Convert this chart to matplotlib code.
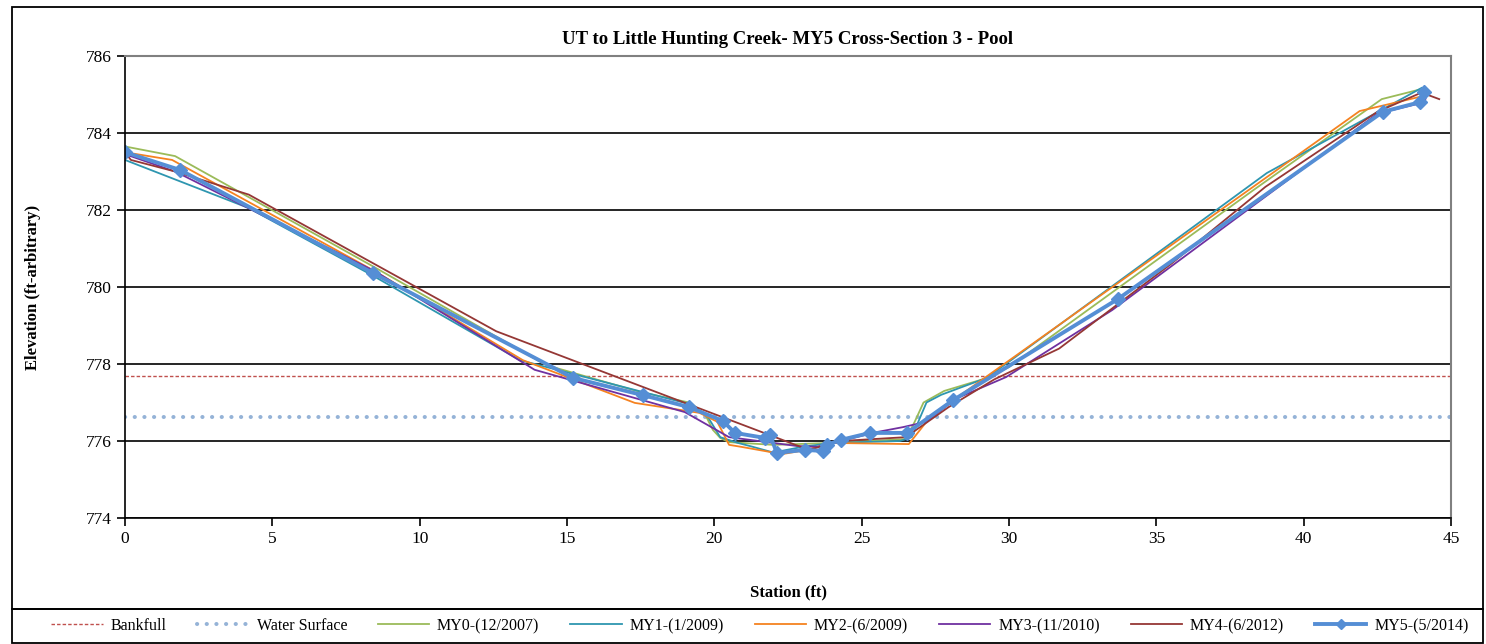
import matplotlib
matplotlib.use("Agg")
import matplotlib.pyplot as plt
from matplotlib.patches import Rectangle

plt.rcParams['font.family'] = ['Liberation Serif', 'DejaVu Serif']

# Cross-section survey data (station ft, elevation ft)
bankfull_elev = 777.7
water_surface_elev = 776.62
ref_station = [0, 45]

my0_x = [0, 1.7, 8.5, 14.3, 17.5, 19.2, 19.7, 19.95, 20.2, 20.5, 22.0, 24.0, 26.5, 26.8, 27.1, 27.8, 29.1, 30.0, 38.3, 42.65, 44.15]
my0_y = [783.65, 783.4, 780.5, 777.97, 777.27, 776.99, 776.67, 776.29, 776.08, 775.97, 775.9, 775.95, 776.05, 776.5, 777.0, 777.3, 777.6, 777.92, 782.52, 784.88, 785.17]

my1_x = [0, 4.2, 8.4, 13.4, 19.2, 19.8, 20.2, 20.8, 21.3, 22.0, 23.0, 24.0, 26.3, 26.7, 27.2, 27.7, 28.4, 29.25, 38.75, 44.0]
my1_y = [783.3, 782.05, 780.3, 778.1, 776.95, 776.6, 776.1, 775.95, 775.85, 775.7, 775.85, 775.95, 776.0, 776.1, 777.0, 777.2, 777.4, 777.64, 782.96, 785.17]

my2_x = [0, 1.6, 8.5, 13.5, 17.3, 19.5, 20.1, 20.5, 20.9, 22.3, 23.0, 24.0, 26.6, 27.2, 28.0, 41.9, 44.0]
my2_y = [783.5, 783.3, 780.4, 778.1, 776.99, 776.73, 776.5, 775.9, 775.85, 775.66, 775.75, 775.95, 775.92, 776.5, 777.0, 784.57, 784.95]

my3_x = [0, 1.7, 8.5, 13.9, 19.0, 20.5, 22.8, 23.5, 25.5, 26.4, 27.2, 28.2, 29.9, 33.5, 42.5, 44.1, 44.2]
my3_y = [783.45, 783.0, 780.4, 777.85, 776.75, 776.1, 775.87, 775.85, 776.23, 776.36, 776.5, 777.1, 777.66, 779.4, 784.5, 784.8, 785.05]

my4_x = [0, 0.2, 1.7, 4.2, 12.6, 23.2, 23.6, 24.3, 26.5, 27.95, 29.5, 31.7, 35.5, 38.7, 42.5, 44.0, 44.6]
my4_y = [783.5, 783.3, 783.0, 782.4, 778.85, 775.77, 775.85, 776.0, 776.1, 776.88, 777.6, 778.4, 780.6, 782.6, 784.55, 785.05, 784.88]

my5_x = [0, 1.87, 8.42, 15.2, 17.58, 19.14, 20.29, 20.7, 21.72, 21.89, 22.12, 23.07, 23.69, 23.82, 24.3, 25.28, 26.54, 28.1, 33.7, 42.69, 43.94, 44.1]
my5_y = [783.5, 783.04, 780.36, 777.64, 777.19, 776.88, 776.52, 776.21, 776.08, 776.16, 775.69, 775.77, 775.74, 775.9, 776.03, 776.21, 776.21, 777.06, 779.69, 784.55, 784.8, 785.07]

W, H = 1486, 644
fig = plt.figure(figsize=(W / 100, H / 100), dpi=100)

# outer chart frame and legend frame
fig.patches.append(Rectangle((12 / W, 1 - 609 / H), 1471 / W, 602 / H, transform=fig.transFigure,
                             fill=False, edgecolor='black', linewidth=1.3))
fig.patches.append(Rectangle((12 / W, 1 - 643 / H), 1471 / W, 34 / H, transform=fig.transFigure,
                             fill=False, edgecolor='black', linewidth=1.3))

ax = fig.add_axes([125 / W, 1 - 518 / H, 1326 / W, 462 / H])

ax.plot(ref_station, [bankfull_elev] * 2, color='#C0504D', linestyle=(0, (2.5, 1.5)), linewidth=1.0, label='Bankfull')
ax.plot(ref_station, [water_surface_elev] * 2, color='#95B3D7', linestyle=(0, (0.05, 2.35)), linewidth=2.9,
        dash_capstyle='round', label='Water Surface')
ax.plot(my0_x, my0_y, color='#9BBB59', linewidth=1.3, label='MY0-(12/2007)')
ax.plot(my1_x, my1_y, color='#2E96B0', linewidth=1.3, label='MY1-(1/2009)')
ax.plot(my2_x, my2_y, color='#F58220', linewidth=1.3, label='MY2-(6/2009)')
ax.plot(my3_x, my3_y, color='#7030A0', linewidth=1.3, label='MY3-(11/2010)')
ax.plot(my4_x, my4_y, color='#953735', linewidth=1.3, label='MY4-(6/2012)')
ax.plot(my5_x, my5_y, color='#558ED5', linewidth=2.8, marker='D', markersize=7, label='MY5-(5/2014)')

ax.set_xlim(0, 45)
ax.set_ylim(774, 786)
ax.set_xticks(range(0, 46, 5))
ax.set_yticks(range(774, 787, 2))
ax.yaxis.grid(True, color='black', linewidth=1.2)
ax.set_axisbelow(True)
ax.tick_params(labelsize=12.5, direction='out', length=6, width=1.2, color='black')
for s in ['top', 'right']:
    ax.spines[s].set_color('#808080')
    ax.spines[s].set_linewidth(1.5)
for s in ['left', 'bottom']:
    ax.spines[s].set_linewidth(1.2)

fig.text(788 / W, 1 - 40 / H, 'UT to Little Hunting Creek- MY5 Cross-Section 3 - Pool',
         ha='center', va='center', fontsize=13.5, fontweight='bold')
fig.text(788 / W, 1 - 592 / H, 'Station (ft)', ha='center', va='center', fontsize=12, fontweight='bold')
fig.text(33 / W, 1 - 287 / H, 'Elevation (ft-arbitrary)', ha='center', va='center', rotation=90,
         fontsize=12, fontweight='bold')

handles, labels = ax.get_legend_handles_labels()
fig.legend(handles, labels, loc='center', ncol=8, frameon=False, fontsize=11.5,
           bbox_to_anchor=(45 / W, 1 - 643 / H, 1430 / W, 34 / H), mode='expand',
           handlelength=3.2, handletextpad=0.5, borderaxespad=0, markerscale=0.7)

fig.savefig('out.png', dpi=100)
